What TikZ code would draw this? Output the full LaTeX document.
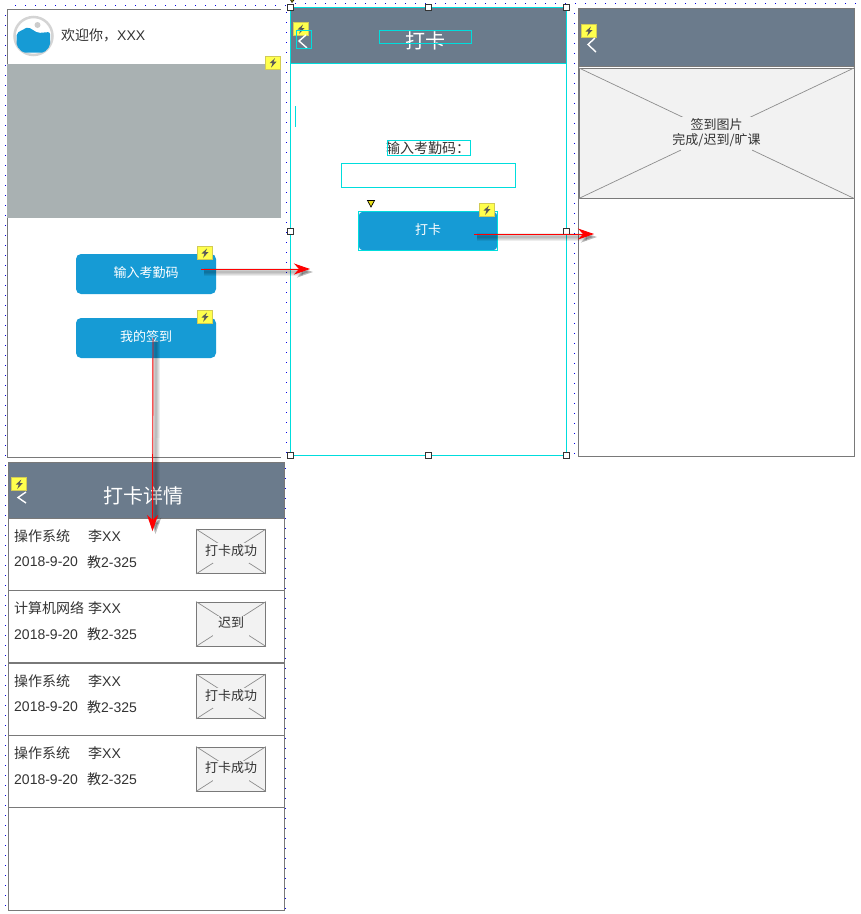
\documentclass[tikz,border=0pt]{standalone}
\usepackage{fontspec}
\setmainfont{Liberation Sans}
\newfontfamily\cjk{Noto Sans CJK SC}
\usetikzlibrary{arrows.meta}
\definecolor{blockgray}{HTML}{6B7B8C}
\definecolor{edgegray}{HTML}{797979}
\definecolor{bannergray}{HTML}{A9B1B2}
\definecolor{btnblue}{HTML}{169BD5}
\definecolor{picgray}{HTML}{F2F2F2}
\definecolor{inkgray}{HTML}{333333}
\definecolor{selcyan}{HTML}{00DDDD}
\definecolor{badgeyellow}{HTML}{FFFF4D}
\tikzset{
	screenbox/.style={draw=edgegray,fill=white,line width=.9pt},
	headbar/.style={fill=blockgray,draw=edgegray,line width=.6pt},
	selbox/.style={draw=selcyan,line width=.9pt},
	griddot/.style={fill=blue!90!black},
	backmark/.style={draw=white,line width=1.4pt},
	btnbox/.style={draw=none,fill=btnblue,rounded corners=5pt},
	btntext/.style={text=white,font=\cjk\fontsize{13}{15}\selectfont},
	bodytext/.style={text=inkgray,font=\cjk\fontsize{14}{16}\selectfont,inner sep=0pt},
	pictext/.style={text=inkgray,font=\cjk\fontsize{13}{15.5}\selectfont,inner sep=0pt,align=center},
	picbox/.style={draw=edgegray,fill=picgray,line width=.8pt},
	gapbox/.style={fill=picgray,draw=none,inner sep=0pt},
	crossline/.style={draw=edgegray!85!white,line width=.7pt},
	handle/.style={draw=black!80,fill=white,line width=.8pt,minimum size=6pt,inner sep=0pt},
	redflow/.style={draw=red,line width=.9pt,-{Stealth[length=16pt,width=11pt,inset=5pt]},red},
	shadeflow/.style={line width=#1,black,opacity=.07,-{Stealth[length=16pt,width=11pt,inset=5pt]}},
	badge/.pic={
		\draw[fill=badgeyellow,draw=yellow!60!gray,line width=.8pt] (-7.5,-6.5) rectangle (7.5,6.5);
		\fill[black!65] (2,-4.5) -- (-3.5,.5) -- (-.5,.5) -- (-2,5) -- (3.5,-1) -- (.5,-1) -- cycle;
	}
}
\newcommand{\flow}[2]{
	\foreach \w in {8pt,6pt,4pt,2pt}
	{
		\draw[shadeflow=\w,transform canvas={shift={(3pt,-3pt)}}] (#1) -- (#2);
	}
	\draw[redflow] (#1) -- (#2);
}
\begin{document}
\begin{tikzpicture}[x=1pt,y=-1pt]
\useasboundingbox (0,0) rectangle (861,914);
\fill[white] (0,0) rectangle (861,914);
\foreach \i in {1,...,28}
{
	\fill[griddot] ({4.5+10*\i},4.5) rectangle ({5.5+10*\i},5.5);
}
\foreach \i in {29,...,85}
{
	\fill[griddot] ({4.5+10*\i},2.5) rectangle ({5.5+10*\i},3.5);
}
\foreach \j in {1,...,90}
{
	\fill[griddot] (4.500,{4.5+10*\j}) rectangle (5.500,{5.5+10*\j});
}
\foreach \j in {0,...,44}
{
	\fill[griddot] (286,{11.5+10*\j}) rectangle (287,{12.5+10*\j});
	\fill[griddot] (574,{12.5+10*\j}) rectangle (575,{13.5+10*\j});
}
\foreach \j in {0,...,44}
{
	\fill[griddot] (285,{467.5+10*\j}) rectangle (286,{468.5+10*\j});
}

\fill[white] (8,10) rectangle (281,457);
\draw[screenbox,fill=none] (281,9.500) -- (7.500,9.500) -- (7.500,457.500) -- (281,457.500);
\draw[draw=black!17,fill=white,line width=2.5pt] (33.500,36) circle (19);
\fill[btnblue,rounded corners=2pt] (16.700,33) -- (28,27) -- (38,33) -- (50,32) -- (50,46) -- (44,52.700) -- (23,52.700) -- (16.700,46) -- cycle;
\fill[black!20] (37.500,25) circle (3);
\node[bodytext,anchor=west] (welcome) at (61,35) {欢迎你，\rmfamily XXX};
\fill[bannergray] (7,64) rectangle (281,218);
\pic at (273,62.700) {badge};
\node[btnbox,minimum width=140pt,minimum height=40pt] (codebtn) at (146,274) {};
\node[btntext] (codetext) at (146,273) {输入考勤码};
\pic at (205,253) {badge};
\node[btnbox,minimum width=140pt,minimum height=40pt] (signbtn) at (146,338) {};
\node[btntext] (signtext) at (146,337) {我的签到};
\pic at (205,317) {badge};

\fill[white] (290.500,7.500) rectangle (566.500,455);
\draw[selcyan,line width=1pt] (290.500,7.500) rectangle (566.500,455.500);
\fill[blockgray] (291,8) rectangle (566,63);
\draw[selcyan,line width=.8pt] (291,63.500) -- (566,63.500);
\pic at (301,29) {badge};
\draw[backmark] (306,35) -- (299,41) -- (307,48);
\draw[selbox] (296,30) rectangle (311.500,48);
\node[text=white,font=\cjk\fontsize{20}{22}\selectfont,inner sep=0pt] (cardtitle) at (425,41) {打卡};
\draw[selbox] (379,30) rectangle (471,43.500);
\draw[selbox] (295.500,106) -- (295.500,127);
\node[bodytext] (codelabel) at (428,148) {输入考勤码：};
\draw[selbox] (387.500,140) rectangle (470.500,155);
\node[selbox,fill=white,minimum width=174pt,minimum height=24pt,inner sep=0pt] (codeinput) at (428.500,175.500) {};
\fill[yellow!90!black,draw=black,line width=.7pt] (367.500,200.500) -- (374.500,200.500) -- (371,207) -- cycle;
\node[btnbox,minimum width=139pt,minimum height=39pt] (cardbtn) at (428,231) {};
\draw[selbox] (358.500,211.500) rectangle (497.500,250.500);
\node[btntext] (cardtext) at (428,230) {打卡};
\pic at (487,210) {badge};

\draw[screenbox] (578.500,8.500) rectangle (854.500,456.500);
\fill[headbar] (579,8.500) rectangle (854,66.500);
\pic at (589,31) {badge};
\draw[backmark] (595,38) -- (588,44.500) -- (596,52);
\node[picbox,minimum width=275pt,minimum height=130pt,inner sep=0pt] (bigpic) at (716.500,133.200) {};
\draw[crossline] (bigpic.north west) -- (bigpic.south east);
\draw[crossline] (bigpic.north east) -- (bigpic.south west);
\node[gapbox,minimum width=71pt,minimum height=34pt] (biggap) at (716.500,134) {};
\node[pictext] (bigtext) at (716.500,132.500) {签到图片\\完成/迟到/旷课};

\draw[screenbox] (8.500,462.500) rectangle (284.500,910);
\fill[headbar] (8.500,462.500) rectangle (284.500,518.500);
\pic at (19.300,484) {badge};
\draw[backmark] (26,492) -- (18,497.500) -- (26,503);
\node[text=white,font=\cjk\fontsize{20}{22}\selectfont,inner sep=0pt] (detailtitle) at (143,496) {打卡详情};
\foreach \i/\y/\course/\state/\endy in {1/518/操作系统/打卡成功/590.500,2/590.500/计算机网络/迟到/662.500,3/663/操作系统/打卡成功/735.500,4/735.500/操作系统/打卡成功/807.500}
{
	\node[bodytext,anchor=west] (course\i) at (14,{\y+18}) {\course};
	\node[bodytext,anchor=west] (teacher\i) at (88,{\y+18}) {李\rmfamily XX};
	\node[bodytext,anchor=west] (date\i) at (14,{\y+44}) {\rmfamily 2018-9-20};
	\node[bodytext,anchor=west] (room\i) at (87,{\y+44}) {教\rmfamily 2-325};
	\node[picbox,minimum width=69pt,minimum height=44pt,inner sep=0pt] (rowpic\i) at (231,{\y+33.5}) {};
	\draw[crossline] (rowpic\i.north west) -- (rowpic\i.south east);
	\draw[crossline] (rowpic\i.north east) -- (rowpic\i.south west);
	\node[gapbox,minimum width=36pt,minimum height=20pt] (rowgap\i) at (231,{\y+35}) {};
	\node[pictext] (rowstate\i) at (231,{\y+32.5}) {\state};
	\draw[edgegray,line width=.9pt] (9,\endy) -- (284,\endy);
}
\draw[edgegray,line width=.9pt] (9,663.500) -- (284,663.500);

\foreach \i/\x/\y in {1/290.500/7,2/428.500/7,3/566.500/7,4/290.500/231,5/566.500/231,6/290.500/455,7/428.500/455,8/566.500/455}
{
	\node[handle] (grip\i) at (\x,\y) {};
}
\fill[yellow!90!black,draw=black,line width=.5pt] (290.500,0) -- (294,0) -- (292,2.500) -- cycle;

\coordinate (codefrom) at (201,269);
\coordinate (codeto) at (310,269);
\coordinate (cardfrom) at (474,234);
\coordinate (cardto) at (594,234);
\coordinate (signfrom) at (153,338);
\coordinate (signto) at (152.500,531);
\flow{codefrom}{codeto}
\flow{cardfrom}{cardto}
\flow{signfrom}{signto}
\end{tikzpicture}
\end{document}
